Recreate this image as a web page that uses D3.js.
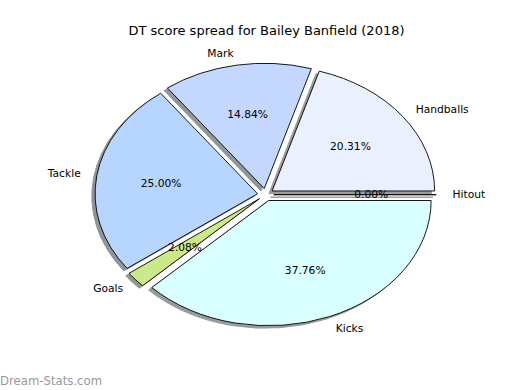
<!DOCTYPE html>
<html>
<head>
<meta charset="utf-8">
<script src="https://cdn.jsdelivr.net/npm/d3@7"></script>
<style>
  body { margin: 0; background: #fff; }
  text { font-family: "DejaVu Sans", sans-serif; }
</style>
</head>
<body>
<svg id="canvas" width="520" height="390"></svg>
<script>
"use strict";

// DT score spread, counterclockwise from 3 o'clock like the original
const categories = ["Handballs", "Mark", "Tackle", "Goals", "Kicks", "Hitout"];
const points = [78, 57, 96, 8, 145, 0];
const colors = ["#ebf0ff", "#c4d8ff", "#b6d6ff", "#cce98a", "#d9ffff", "#ffe0e0"];

const W = 520, H = 390;
const cx = 265.6, cy = 194.7, rx = 162.5, ry = 125.2;
const explode = 0.05;

const svg = d3.select('#canvas');

// data units -> pixels (pie radius is 1, y goes up)
const x = d3.scaleLinear().domain([-1, 1]).range([cx - rx, cx + rx]);
const y = d3.scaleLinear().domain([-1, 1]).range([cy + ry, cy - ry]);

const total = d3.sum(points);

const pie = d3.pie()
    .sort(null)
    .startAngle(Math.PI / 2)
    .endAngle(Math.PI / 2 - 2 * Math.PI);

const arcs = pie(points);
const arc = d3.arc().innerRadius(0).outerRadius(1);

// mid direction of each wedge, in data units
const dir = (d) => {
    let m = (d.startAngle + d.endAngle) / 2;
    return [Math.sin(m), Math.cos(m)];
};

const wedgeTransform = (d, dx, dy) => {
    let [ux, uy] = dir(d);
    let px = x(explode * ux) + dx;
    let py = y(explode * uy) + dy;
    return `translate(${px},${py}) scale(${rx},${ry})`;
};

const shade = (c) => {
    let col = d3.rgb(c);
    return d3.rgb(col.r * 0.3, col.g * 0.3, col.b * 0.3);
};

// shadows first, behind every wedge
svg.append('g').selectAll('path')
    .data(arcs)
    .enter()
    .append('path')
    .attr('d', arc)
    .attr('transform', (d) => wedgeTransform(d, -0.02 * rx, 0.02 * ry))
    .attr('fill', (d, i) => shade(colors[i]))
    .attr('stroke', (d, i) => shade(colors[i]))
    .attr('stroke-width', 1)
    .attr('vector-effect', 'non-scaling-stroke')
    .attr('opacity', 0.55);

svg.append('g').selectAll('path')
    .data(arcs)
    .enter()
    .append('path')
    .attr('d', arc)
    .attr('transform', (d) => wedgeTransform(d, 0, 0))
    .attr('fill', (d, i) => colors[i])
    .attr('stroke', '#000')
    .attr('stroke-width', 0.9)
    .attr('vector-effect', 'non-scaling-stroke');

// category labels at 1.1 radius
svg.append('g').selectAll('text')
    .data(arcs)
    .enter()
    .append('text')
    .attr('x', (d) => x((explode + 1.1) * dir(d)[0]))
    .attr('y', (d) => y((explode + 1.1) * dir(d)[1]))
    .attr('dy', '0.35em')
    .attr('text-anchor', (d) => dir(d)[0] > 0 ? 'start' : 'end')
    .style('font-size', '10.7px')
    .text((d, i) => categories[i]);

// percentages at 0.6 radius
svg.append('g').selectAll('text')
    .data(arcs)
    .enter()
    .append('text')
    .attr('x', (d) => x((explode + 0.6) * dir(d)[0]))
    .attr('y', (d) => y((explode + 0.6) * dir(d)[1]))
    .attr('dy', '0.35em')
    .attr('text-anchor', 'middle')
    .style('font-size', '10.7px')
    .text((d) => (d.value / total * 100).toFixed(2) + '%');

svg.append('text')
    .attr('x', 266.5)
    .attr('y', 30)
    .attr('dy', '0.35em')
    .attr('text-anchor', 'middle')
    .style('font-size', '13px')
    .text('DT score spread for Bailey Banfield (2018)');

svg.append('text')
    .attr('x', 0)
    .attr('y', 385)
    .style('font-size', '11.7px')
    .attr('fill', '#999')
    .text('Dream-Stats.com');
</script>
</body>
</html>
